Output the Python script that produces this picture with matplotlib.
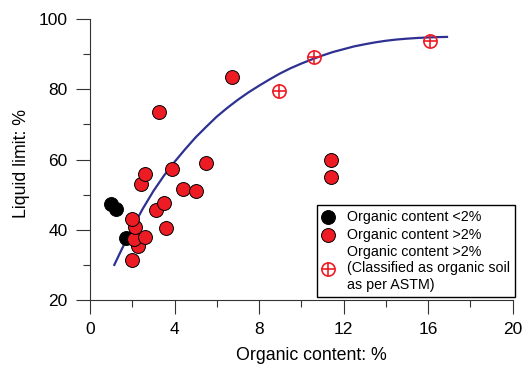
import matplotlib
matplotlib.use("Agg")
import matplotlib.pyplot as plt

plt.rcParams['font.family'] = ['Liberation Sans', 'DejaVu Sans']

# organic content <2%
black_x = [1.00, 1.25, 1.72]
black_y = [47.3, 46.0, 37.6]

# organic content >2%
red_x = [2.00, 2.29, 2.10, 2.61, 2.13, 2.00, 3.60, 3.11, 3.51, 4.40, 5.00,
         2.40, 2.61, 3.90, 5.49, 3.28, 6.71, 11.40, 11.40]
red_y = [31.4, 35.4, 37.3, 38.0, 40.7, 43.0, 40.4, 45.7, 47.5, 51.5, 51.1,
         52.9, 56.0, 57.4, 58.9, 73.5, 83.4, 59.9, 55.0]

# organic soil (ASTM)
astm_x = [8.93, 10.61, 16.10]
astm_y = [79.6, 89.1, 93.6]

# trend curve
curve_x = [1.15, 1.5, 2.0, 2.5, 3.0, 3.5, 4.0, 4.5, 5.0, 5.5, 6.0, 6.5, 7.0,
           7.5, 8.0, 8.5, 9.0, 9.5, 10.0, 10.5, 11.0, 11.5, 12.0, 12.5,
           13.0, 13.5, 14.0, 14.5, 15.0, 15.5, 16.0, 16.5, 16.9]
curve_y = [30.0, 34.4, 40.5, 46.0, 51.0, 55.4, 59.3, 62.9, 66.3, 69.3, 72.2,
           74.7, 77.0, 79.1, 81.0, 82.8, 84.5, 86.0, 87.3, 88.5, 89.6, 90.6,
           91.4, 92.2, 92.8, 93.35, 93.8, 94.15, 94.4, 94.6, 94.75, 94.85,
           94.9]

red = '#ed1c24'
navy = '#2e3192'

fig = plt.figure(figsize=(5.22, 3.72), dpi=100)
ax = fig.add_axes([90/522, 1 - 300/372, (512.5 - 90)/522, (300 - 19)/372])

ax.plot(curve_x, curve_y, color=navy, lw=1.6, zorder=2)
h_black = ax.scatter(black_x, black_y, s=100, c='black', edgecolors='black',
                     linewidths=0.7, zorder=3)
h_red = ax.scatter(red_x, red_y, s=100, c=red, edgecolors='black',
                   linewidths=0.7, zorder=4)
h_o, = ax.plot(astm_x, astm_y, 'o', ms=9.5, mfc='none', mec=red, mew=1.2,
               ls='none', zorder=5)
h_p, = ax.plot(astm_x, astm_y, '+', ms=9.5, mec=red, mew=1.2,
               ls='none', zorder=5)

ax.set_xlim(0, 20)
ax.set_ylim(20, 100)
ax.set_xticks([0, 4, 8, 12, 16, 20])
ax.set_xticks([2, 6, 10, 14, 18], minor=True)
ax.set_yticks([20, 40, 60, 80, 100])
ax.set_yticks([30, 50, 70, 90], minor=True)
ax.spines['top'].set_visible(False)
ax.spines['right'].set_visible(False)
for s in ['left', 'bottom']:
    ax.spines[s].set_linewidth(0.8)
    ax.spines[s].set_color('#333333')
ax.tick_params(which='major', direction='out', length=10, width=0.8,
               color='#333333', labelsize=12.5, pad=6)
ax.tick_params(which='minor', direction='out', length=5, width=0.8,
               color='#333333')

ax.set_xlabel('Organic content: %', fontsize=12.8)
ax.set_ylabel('Liquid limit: %', fontsize=12.8)
ax.xaxis.set_label_coords(0.524, -0.196)
ax.yaxis.set_label_coords(-0.161, 0.484)
ax.xaxis.label.set_va('center')
ax.yaxis.label.set_va('center')

leg = ax.legend([h_black, h_red, (h_o, h_p)],
                ['Organic content <2%', 'Organic content >2%',
                 'Organic content >2%\n(Classified as organic soil\nas per ASTM)'],
                loc='upper left', bbox_to_anchor=(317/522, 1 - 205/372),
                bbox_transform=fig.transFigure, borderaxespad=0,
                fontsize=10.3, frameon=True, fancybox=False, framealpha=1,
                edgecolor='black', handlelength=0.8, handletextpad=0.95,
                labelspacing=0.25, borderpad=0.35, scatterpoints=1)
leg.get_frame().set_linewidth(1.0)
leg.set_zorder(10)

fig.savefig('out.png', dpi=100)
